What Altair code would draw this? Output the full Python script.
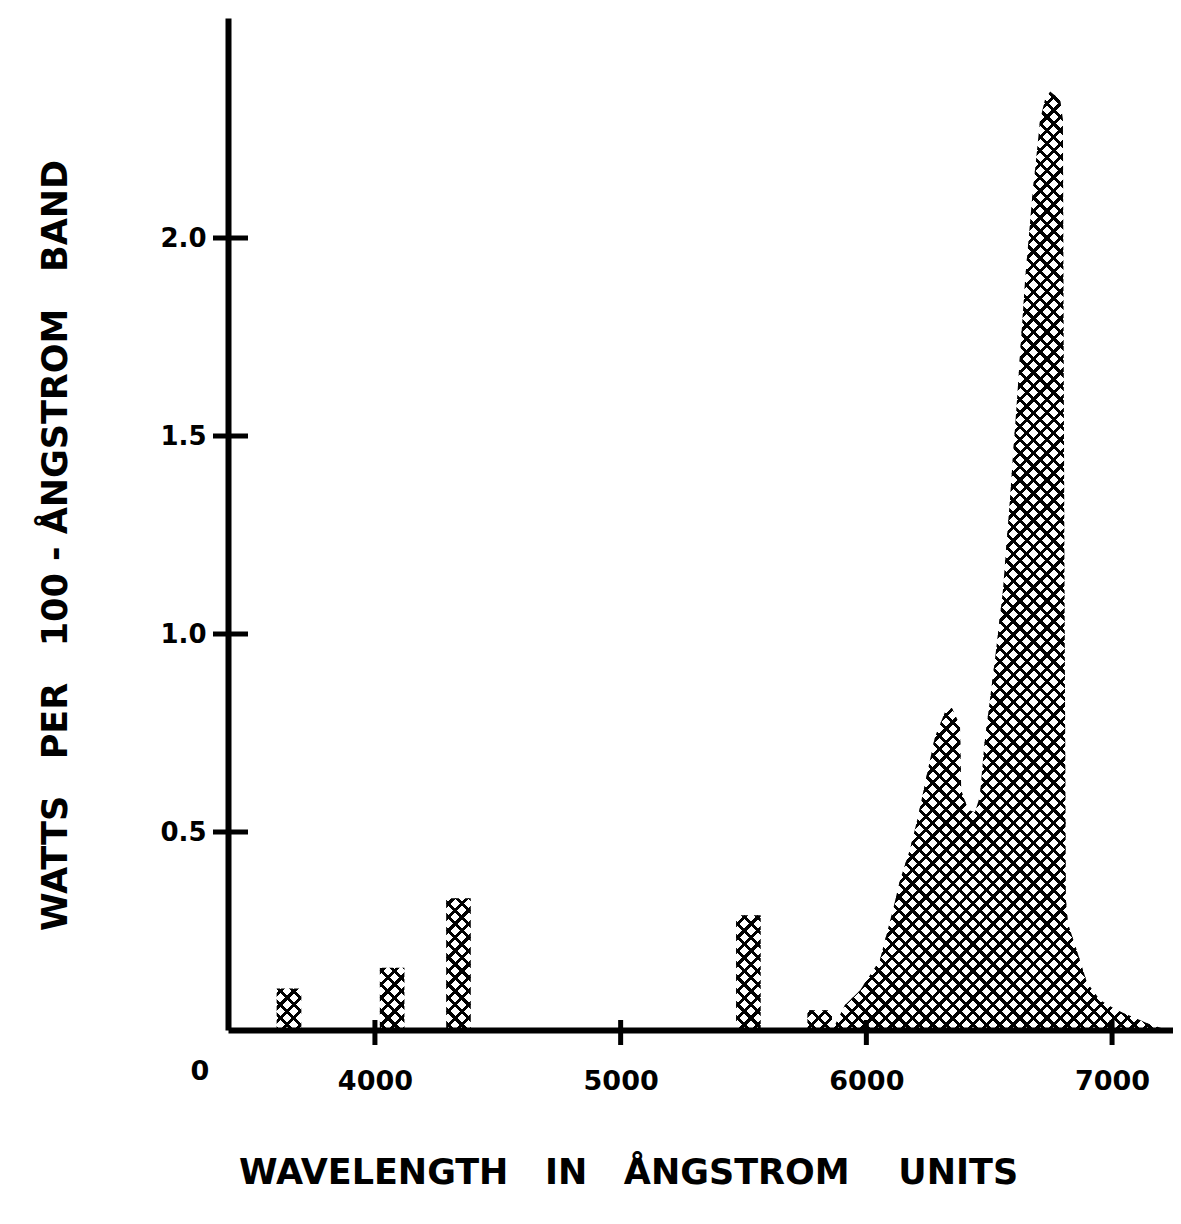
import math
import altair as alt
import pandas as pd

# ---- data ----
# discrete mercury lines drawn as 100-Angstrom bands (band start, height)
band_start = [3600, 4020, 4290, 5470, 5760]
band_height = [0.105, 0.157, 0.333, 0.29, 0.05]
BAND_WIDTH = 100

# continuum (red phosphor) outline
cont_w = [5862, 5913, 5974, 6055, 6108, 6137, 6177, 6210, 6239, 6279, 6320, 6348,
          6381, 6386, 6414, 6442, 6462, 6480, 6495, 6523, 6556, 6584, 6613, 6646,
          6674, 6707, 6727, 6748, 6788, 6800, 6806, 6812, 6820, 6857, 6898, 6951,
          7020, 7085, 7150, 7225]
cont_v = [0.0, 0.063, 0.10, 0.177, 0.303, 0.379, 0.455, 0.538, 0.624, 0.74, 0.803, 0.813,
          0.77, 0.606, 0.556, 0.55, 0.59, 0.72, 0.795, 0.934, 1.111, 1.338, 1.591, 1.894,
          2.096, 2.298, 2.35, 2.37, 2.35, 2.30, 1.2, 0.33, 0.27, 0.2, 0.12, 0.076,
          0.05, 0.033, 0.015, 0.0]

x_ticks = [4000, 5000, 6000, 7000]
y_ticks = [0.5, 1.0, 1.5, 2.0]

X_DOMAIN = [3402, 7248]
Y_DOMAIN = [0, 2.5556]
W, H = 945, 1012
FONT = "DejaVu Sans"
SP = "\u00a0"

# ---- build the outline table (points in increasing wavelength) ----
pts = []
for s, h in zip(band_start, band_height):
    pts += [(s, 0.0), (s, h), (s + BAND_WIDTH, h), (s + BAND_WIDTH, 0.0)]
pts += list(zip(cont_w, cont_v))
df = pd.DataFrame({"w": [p[0] for p in pts], "v": [p[1] for p in pts]})

# ---- cross-hatch fill built from two striped gradients ----
sx = W / (X_DOMAIN[1] - X_DOMAIN[0])
sy = H / (Y_DOMAIN[1] - Y_DOMAIN[0])
bw = (df["w"].max() - df["w"].min()) * sx
bh = df["v"].max() * sy


def hatch(direction, period=13.5, frac=0.32):
    k = (bw + bh) / (bw * bw + bh * bh)
    n = int(math.ceil((bw + bh) / period))
    stops = []
    for j in range(n):
        a, b, c = j / n, (j + frac) / n, (j + 1) / n
        stops += [
            alt.GradientStop(offset=round(a, 6), color="black"),
            alt.GradientStop(offset=round(b, 6), color="black"),
            alt.GradientStop(offset=round(b, 6), color="rgba(255,255,255,0)"),
            alt.GradientStop(offset=round(min(c, 1.0), 6), color="rgba(255,255,255,0)"),
        ]
    if direction == 1:
        x1, y1, x2, y2 = 0, 0, bw * k, bh * k
    else:
        x1, y1, x2, y2 = 0, 1, bw * k, 1 - bh * k
    return alt.LinearGradient(gradient="linear", stops=stops,
                              x1=x1, y1=y1, x2=x2, y2=y2)


x_axis = alt.Axis(values=x_ticks, format="d", labelFontSize=27,
                  labelFont=FONT, labelFontWeight="bold", labelPadding=38,
                  labelColor="black",
                  title="WAVELENGTH" + SP * 3 + "IN" + SP * 3 + "ÅNGSTROM" + SP * 4 + "UNITS",
                  titleFont=FONT, titleFontSize=35, titleFontWeight="bold",
                  titleColor="black",
                  titleX=400, titleY=142, titleAlign="center",
                  titleBaseline="middle")
y_axis = alt.Axis(values=y_ticks, format=".1f", labelFontSize=26,
                  labelFont=FONT, labelFontWeight="bold", labelPadding=22,
                  labelColor="black",
                  title="WATTS" + SP * 3 + "PER" + SP * 3 + "100" + SP + "-" + SP + "ÅNGSTROM" + SP * 3 + "BAND",
                  titleFont=FONT, titleFontSize=35, titleFontWeight="bold",
                  titleColor="black", titleAngle=270,
                  titleX=-173, titleY=527, titleAlign="center",
                  titleBaseline="middle")
x_scale = alt.Scale(domain=X_DOMAIN, nice=False, zero=False)
y_scale = alt.Scale(domain=Y_DOMAIN, nice=False)


def xe():
    return alt.X("w:Q", scale=x_scale, axis=x_axis)


def ye():
    return alt.Y("v:Q", scale=y_scale, axis=y_axis)


base = alt.Chart(df)
area1 = base.mark_area(fill=hatch(1)).encode(x=xe(), y=ye())
area2 = base.mark_area(fill=hatch(-1)).encode(x=xe(), y=ye())

ytick_rules = alt.Chart(pd.DataFrame({"v": y_ticks})).mark_rule(
    color="black", strokeWidth=5).encode(
    y=ye(), x=alt.value(-15), x2=alt.value(20))
xtick_rules = alt.Chart(pd.DataFrame({"w": x_ticks})).mark_rule(
    color="black", strokeWidth=5).encode(
    x=xe(), y=alt.value(H - 10), y2=alt.value(H + 15))
origin = alt.Chart(pd.DataFrame({"w": [X_DOMAIN[0]], "v": [0.0], "t": ["0"]})).mark_text(
    dx=-28, dy=42, fontSize=27, font=FONT, fontWeight="bold", color="black",
    align="center", baseline="middle").encode(
    x=xe(), y=ye(), text="t:N")

chart = alt.layer(area1, area2, ytick_rules, xtick_rules, origin).properties(
    width=W, height=H,
    autosize=alt.AutoSizeParams(type="none"),
    padding={"left": 220, "top": 10, "right": 0, "bottom": 180},
).configure_axis(
    domainWidth=6, domainColor="black", grid=False, ticks=False, tickSize=0,
).configure_view(strokeWidth=0)

chart.save("out.html", embed_options={"renderer": "svg", "actions": False})
